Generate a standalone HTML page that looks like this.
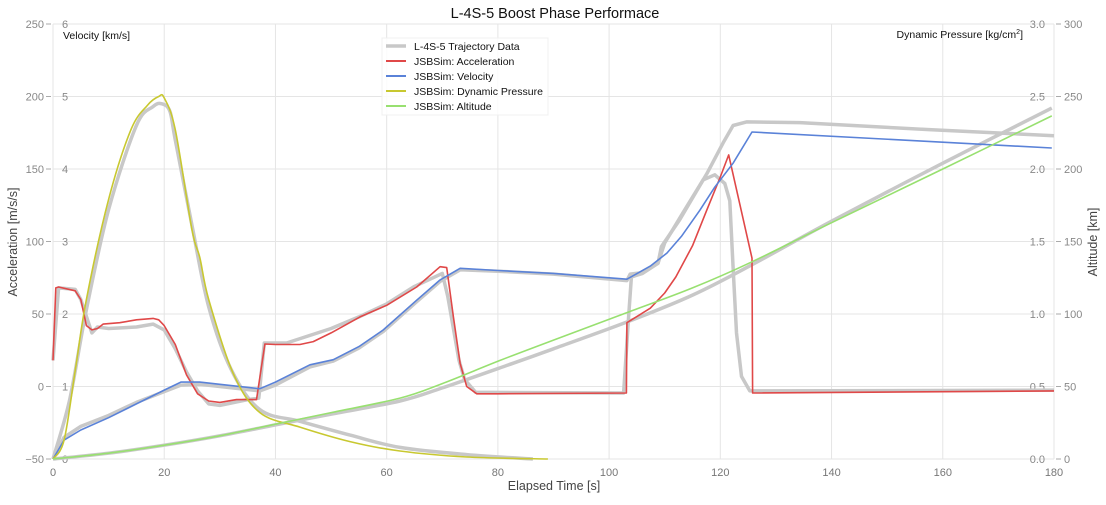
<!DOCTYPE html>
<html><head><meta charset="utf-8"><style>
body{margin:0;background:#fff;}
svg{font-family:"Liberation Sans","DejaVu Sans",sans-serif;}
</style></head><body>
<svg id="chart" width="1106" height="500" xmlns="http://www.w3.org/2000/svg"></svg>
<script>
const xTicks=[0,20,40,60,80,100,120,140,160,180];
const accTicks=[-50,0,50,100,150,200,250];
const velTicks=[0,1,2,3,4,5,6];
const qTicks=["0.0","0.5","1.0","1.5","2.0","2.5","3.0"];
const altTicks=[0,50,100,150,200,250,300];
// JSBSim acceleration [m/s/s]
const accT=[0,0.5,1,4,5,6,7,8,9,12,15,18,19,20,22,24,26,28,30,33,36.6,38.1,40,44.4,46.8,50,55.2,60,65.4,69.6,70.8,72,73.2,74.4,76.2,80,103.1,103.2,107.4,110,112,115,117.6,120,121.5,125.7,125.8,180];
const accV=[18,68,68.6,66,60,42,39,40,43,44,46,47,46,42,29,8,-5,-10,-11,-9,-9,29.3,29,29,31,37,48,56,68.6,82.6,82,48,16,0,-5,-5,-4.5,44,54,64.5,75.5,97,122,144.5,159.7,88.5,-4.5,-3];
// Trajectory acceleration
const gAccT=[0,1,4,5,7,8,10,15,18,20,22,24,26,28,30,35,37,38,42,50,55,60,65,70,71,72,73,74,76,102.6,103.5,104,106,108.8,110,113.3,116.9,119,120.8,121.7,122.3,122.9,123.8,125.3,150,180];
const gAccV=[18,68,67,60,37,41,40,41,43,39,26,10,-3,-12,-13,-9,-8,30,30,40,48,57,69,78,62,40,18,5,-4,-4.5,48,75.5,78,85,99,120,142.5,146,140,128,82,37,7,-3,-2.8,-2.5];
// Velocity [km/s]
const velT=[0,2,5,10,15,20,23,26.4,30,37.2,40,46.2,50.4,55,59.4,65.4,69.6,73.2,80,90,103.2,107.4,110.4,113,116.3,119,122.3,125.7,179.6];
const velV=[0,0.26,0.4,0.57,0.76,0.95,1.06,1.06,1.03,0.97,1.06,1.3,1.37,1.55,1.78,2.19,2.47,2.63,2.6,2.56,2.48,2.66,2.84,3.07,3.43,3.75,4.08,4.51,4.29];
const gVelT=[0,2,5,10,15,20,23,26.4,30,37.2,40,46.2,50.4,55,59.4,65.4,69.6,73.2,80,90,103.2,103.8,106,108.8,109.4,112.7,117.6,120.5,122.3,124.7,134.3,158,180];
const gVelV=[0,0.3,0.45,0.6,0.78,0.93,1.02,1.03,1.0,0.94,1.02,1.27,1.35,1.53,1.76,2.17,2.45,2.61,2.59,2.55,2.46,2.55,2.57,2.7,2.93,3.3,3.94,4.36,4.6,4.65,4.64,4.54,4.46];
// Dynamic pressure [kg/cm2]
const qT=[0,2,4,6,10,14,17,19,20,22,25,26.4,28,32.4,37.2,44.4,53.4,62.4,74.4,89];
const qV=[0,0.13,0.61,1.1,1.79,2.27,2.44,2.5,2.49,2.27,1.58,1.39,1.1,0.59,0.32,0.22,0.12,0.055,0.014,0];
const gQT=[0,3,6,10,15,18,19.5,21,22,25,28,32,37.2,44.4,53.4,62.4,74.4,86.3];
const gQV=[0,0.41,1.03,1.72,2.3,2.43,2.45,2.4,2.2,1.61,1.05,0.62,0.34,0.26,0.165,0.08,0.03,0];
// Altitude [km]
const altT=[0,10,20,30,40,50,62.4,70,80.4,90,103.2,115,125.7,140,160,179.6];
const altV=[0,4,9.5,16,24,32,42,52,68,82,101,118,136,163,200,236.6];
const gAltT=[0,10,20,30,40,50,62.4,70,82.7,90,103.2,115,125.7,140,160,179.6];
const gAltV=[0,4,9.5,16,23.5,31,40,49,66,76,94.5,113,134,164,204,242];

const NS="http://www.w3.org/2000/svg";
const svg=document.getElementById('chart');
const L=53,R=1054,T=24,B=459;
const sx=t=>L+(t/180)*(R-L);
const sAcc=v=>B-(v+50)/300*(B-T);
const sVel=v=>B-v/6*(B-T);
const sQ=v=>B-v/3*(B-T);
const sAlt=v=>B-v/300*(B-T);
function el(tag,attrs,parent){const e=document.createElementNS(NS,tag);for(const k in attrs)e.setAttribute(k,attrs[k]);(parent||svg).appendChild(e);return e;}
function txt(s,attrs){const e=el('text',attrs);e.textContent=s;return e;}

accTicks.forEach(v=>{const g=el('line',{x1:L,x2:R,y1:sAcc(v),y2:sAcc(v),stroke:'#e5e5e5','stroke-width':1});

});
xTicks.forEach(v=>{const g=el('line',{x1:sx(v),x2:sx(v),y1:T,y2:B,stroke:'#e5e5e5','stroke-width':1});

});

xTicks.forEach(v=>{const t=txt(v,{x:sx(v),y:B+17,'font-size':11,fill:'#777','text-anchor':'middle'});

});
accTicks.forEach(v=>{const t=txt(v===-50?'\u221250':v,{x:44,y:sAcc(v)+4,'font-size':11,fill:'#888','text-anchor':'end'});


el('line',{x1:46,x2:51,y1:sAcc(v),y2:sAcc(v),stroke:'#aaa'});});
velTicks.forEach(v=>{const t=txt(v,{x:62,y:sVel(v)+4,'font-size':11,fill:'#888'});

});
qTicks.forEach(s=>{const t=txt(s,{x:1045,y:sQ(+s)+4,'font-size':11,fill:'#888','text-anchor':'end'});

});
altTicks.forEach(v=>{const t=txt(v,{x:1064,y:sAlt(v)+4,'font-size':11,fill:'#888'});


el('line',{x1:1056,x2:1061,y1:sAlt(v),y2:sAlt(v),stroke:'#aaa'});});

let e=txt('L-4S-5 Boost Phase Performace',{x:555,y:18,'font-size':14.5,fill:'#111','text-anchor':'middle'});

e=txt('Elapsed Time [s]',{x:554,y:490,'font-size':12.5,fill:'#444','text-anchor':'middle'});

e=txt('Acceleration [m/s/s]',{x:17,y:242,'font-size':12.5,fill:'#444','text-anchor':'middle',transform:'rotate(-90 17 242)'});

e=txt('Altitude [km]',{x:1097,y:242,'font-size':12.5,fill:'#444','text-anchor':'middle',transform:'rotate(-90 1097 242)'});

e=txt('Velocity [km/s]',{x:63,y:39,'font-size':10.5,fill:'#111'});

e=el('text',{x:1023,y:38,'font-size':10.5,fill:'#111','text-anchor':'end'});
e.innerHTML='Dynamic Pressure [kg/cm<tspan font-size="7" dy="-4">2</tspan><tspan dy="4">]</tspan>';


function line(ts,vs,sy,color,w,name,smooth){
 const P=ts.map((t,i)=>[sx(t),sy(vs[i])]);
 let d='M'+P[0][0].toFixed(1)+','+P[0][1].toFixed(1);
 for(let i=1;i<P.length;i++){
  if(smooth){
   const p0=P[Math.max(0,i-2)],p1=P[i-1],p2=P[i],p3=P[Math.min(P.length-1,i+1)];
   const c1=[p1[0]+(p2[0]-p0[0])/6,p1[1]+(p2[1]-p0[1])/6];
   const c2=[p2[0]-(p3[0]-p1[0])/6,p2[1]-(p3[1]-p1[1])/6];
   d+='C'+c1.map(v=>v.toFixed(1))+' '+c2.map(v=>v.toFixed(1))+' '+p2.map(v=>v.toFixed(1));
  } else d+='L'+P[i][0].toFixed(1)+','+P[i][1].toFixed(1);
 }
 const p=el('path',{d:d,fill:'none',stroke:color,'stroke-width':w,'stroke-linejoin':'round'});
 
 
}
const G='#c8c8c8';
line(gAccT,gAccV,sAcc,G,3.5,'trajectory-acceleration-line',false);
line(gVelT,gVelV,sVel,G,3.5,'trajectory-velocity-line',false);
line(gQT,gQV,sQ,G,3.5,'trajectory-dynamic-pressure-line',true);
line(gAltT,gAltV,sAlt,G,3.5,'trajectory-altitude-line',true);
line(accT,accV,sAcc,'#e04848',1.6,'jsbsim-acceleration-line',false);
line(velT,velV,sVel,'#5a82d8',1.6,'jsbsim-velocity-line',false);
line(qT,qV,sQ,'#c8c830',1.6,'jsbsim-dynamic-pressure-line',true);
line(altT,altV,sAlt,'#98e070',1.6,'jsbsim-altitude-line',true);

const lg=el('g',{});


el('rect',{x:382,y:38,width:166,height:77,fill:'#fff','fill-opacity':0.85,stroke:'#f0f0f0'},lg);
const legNames=['L-4S-5 Trajectory Data','JSBSim: Acceleration','JSBSim: Velocity','JSBSim: Dynamic Pressure','JSBSim: Altitude'];
const legCols=[G,'#e04848','#5a82d8','#c8c830','#98e070'];
legNames.forEach((n,i)=>{const y=46+i*15;
 const g=el('g',{},lg);
 
 
 el('line',{x1:386,x2:406,y1:y,y2:y,stroke:legCols[i],'stroke-width':i?2:3.5},g);
 const t=el('text',{x:414,y:y+4,'font-size':10.5,fill:'#111'},g);t.textContent=n;});
</script>
</body></html>
